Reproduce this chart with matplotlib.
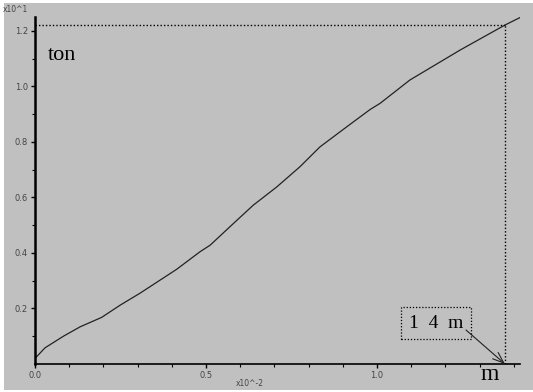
import numpy as np
import matplotlib
matplotlib.use('Agg')
import matplotlib.pyplot as plt
from matplotlib.patches import Rectangle

# curve (x in units of 10^-2, y in units of 10^1)
xs = [0.0, 0.029, 0.083, 0.132, 0.195, 0.249, 0.307, 0.414, 0.482, 0.512,
      0.580, 0.638, 0.707, 0.775, 0.833, 0.911, 0.980, 1.009, 1.096, 1.243,
      1.374, 1.418]
ys = [0.02, 0.058, 0.10, 0.134, 0.168, 0.212, 0.255, 0.341, 0.404, 0.428,
      0.506, 0.572, 0.638, 0.711, 0.782, 0.854, 0.917, 0.939, 1.023, 1.131,
      1.221, 1.248]
mark_x = 1.374
mark_y = 1.221
xticks = [0.0, 0.5, 1.0]
yticks = [0.2, 0.4, 0.6, 0.8, 1.0, 1.2]

W, H = 533, 392
fig = plt.figure(figsize=(W / 100, H / 100), dpi=100)
fig.patch.set_facecolor('white')
fig.patches.append(Rectangle((4 / W, 2 / H), 1 - 4 / W, 1 - 5 / H,
                             transform=fig.transFigure, facecolor='#c0c0c0',
                             edgecolor='none', zorder=-10))

ax = fig.add_axes([35 / W, 28 / H, 485 / W, 347 / H])
ax.set_facecolor('none')
ax.plot(xs, ys, color='#222222', lw=0.9)
ax.set_xlim(0, 1.418)
ax.set_ylim(0, 1.25)

for s in ['top', 'right']:
    ax.spines[s].set_visible(False)
ax.spines['left'].set_linewidth(1.8)
ax.spines['bottom'].set_linewidth(1.2)
ax.set_xticks(xticks)
ax.set_xticklabels(['0.0', '0.5', '1.0'])
ax.set_xticks(np.arange(0.1, 1.41, 0.1), minor=True)
ax.set_yticks(yticks)
ax.set_yticklabels(['0.2', '0.4', '0.6', '0.8', '1.0', '1.2'])
ax.set_yticks(np.arange(0.1, 1.25, 0.1), minor=True)
ax.tick_params(which='major', length=3, width=1, labelsize=6,
               labelcolor='#444444', pad=2)
ax.tick_params(which='minor', length=2, width=0.8)

# dotted guide lines to the marked point
ax.plot([0, mark_x], [mark_y, mark_y], color='black', ls=(0, (1, 1.5)), lw=1)
ax.plot([mark_x, mark_x], [0, mark_y], color='black', ls=(0, (1, 1.5)), lw=1)

fig.text(3 / W, 1 - 10 / H, 'x10^1', fontsize=5.5, color='#444444', va='center')
fig.text(250 / W, 1 - 383 / H, 'x10^-2', fontsize=5.5, color='#444444',
         ha='center', va='center')

serif = ['Liberation Serif', 'DejaVu Serif']
fig.text(48 / W, 1 - 56 / H, 'ton', fontsize=16, family=serif, va='center')
fig.text(490 / W, 1 - 374 / H, 'm', fontsize=17, family=serif,
         ha='center', va='center')

# dotted label box and arrow
fig.text(436 / W, 1 - 323 / H, '1  4  m', fontsize=14, family=serif,
         ha='center', va='center',
         bbox=dict(boxstyle='square,pad=0.4', fc='none', ec='black',
                   ls=(0, (1, 1.5)), lw=0.9))
ax.annotate('', xy=(mark_x, 0), xycoords='data',
            xytext=(466 / W, 1 - 330 / H), textcoords='figure fraction',
            arrowprops=dict(arrowstyle='->,head_length=0.8,head_width=0.3',
                            color='#222222', lw=0.8, shrinkA=0, shrinkB=0))

fig.savefig('out.png', dpi=100, facecolor=fig.get_facecolor())
